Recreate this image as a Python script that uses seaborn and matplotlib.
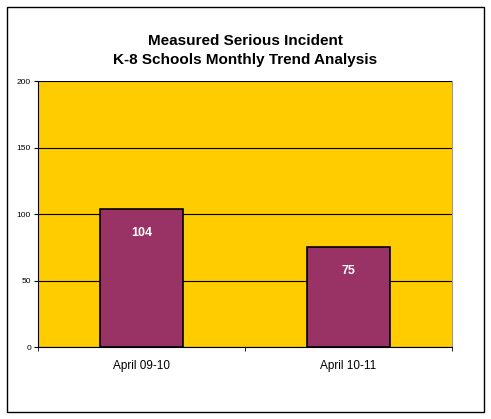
import matplotlib
matplotlib.use("Agg")
import matplotlib.pyplot as plt
import seaborn as sns
import pandas as pd
from matplotlib.patches import Rectangle

periods = ["April 09-10", "April 10-11"]
incidents = [104, 75]

sns.set_style("white")
plt.rcParams['font.family'] = ['Liberation Sans', 'DejaVu Sans']
plt.rcParams['text.color'] = 'black'
plt.rcParams['xtick.color'] = 'black'
plt.rcParams['ytick.color'] = 'black'

df = pd.DataFrame({'Period': periods, 'Incidents': incidents})

fig = plt.figure(figsize=(4.91, 4.19), dpi=100)
ax = fig.add_axes([0.0774, 0.1718, 0.8432, 0.6348])
ax.set_facecolor('#FFCC00')

sns.barplot(data=df, x='Period', y='Incidents', color='#993366', width=0.4,
            edgecolor='black', linewidth=1.2, saturation=1, ax=ax, zorder=3)

ax.set_ylim(0, 200)
ax.set_xlim(-0.5, 1.5)
ax.set_yticks([0, 50, 100, 150, 200])
ax.yaxis.grid(True, color='black', linewidth=0.8, zorder=1)
ax.set_axisbelow(True)
ax.tick_params(axis='y', labelsize=6, length=3, direction='out', left=True, pad=2)
ax.tick_params(axis='x', labelsize=8.5, length=0, pad=9)
ax.set_xticks([-0.5, 0.5, 1.5], minor=True)
ax.tick_params(axis='x', which='minor', length=3, direction='out', bottom=True)
ax.set_xlabel('')
ax.set_ylabel('')

ax.spines['top'].set_visible(False)
ax.spines['right'].set_color('#999999')
ax.spines['left'].set_color('black')
ax.spines['bottom'].set_color('black')

for i, v in enumerate(incidents):
    ax.text(i, v - 18, str(v), ha='center', va='center', color='white',
            fontsize=9, fontweight='bold', zorder=5)

fig.text(0.5, 0.88, "Measured Serious Incident\nK-8 Schools Monthly Trend Analysis",
         ha='center', va='center', fontsize=11, fontweight='bold', linespacing=1.45)

fig.patches.append(Rectangle((0.0143, 0.0167), 0.971, 0.967, transform=fig.transFigure,
                             fill=False, edgecolor='black', linewidth=1))

fig.savefig('out.png', dpi=100)
